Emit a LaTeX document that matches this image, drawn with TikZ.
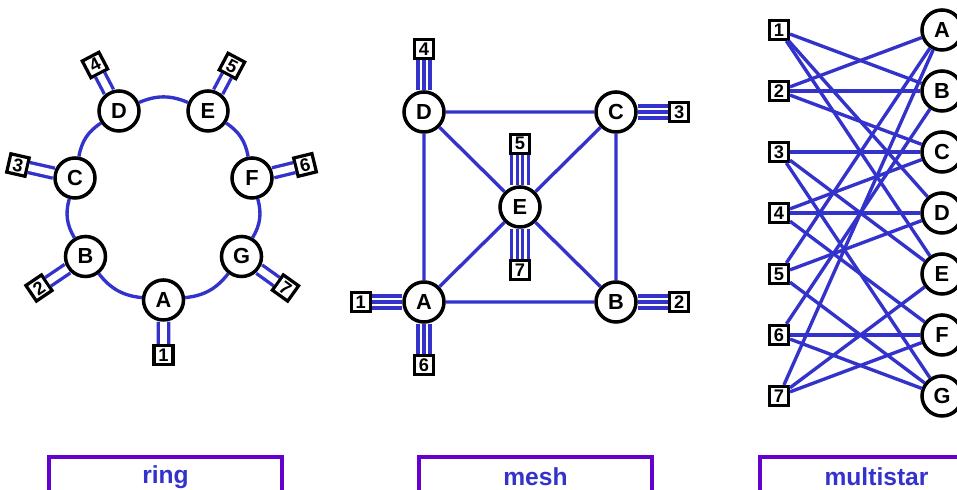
\documentclass[tikz,border=0pt]{standalone}
\usepackage{fontspec}
\setmainfont{Liberation Sans}
\usepackage{xcolor}
\usetikzlibrary{positioning}

\definecolor{linkblue}{RGB}{51,51,204}
\definecolor{framepurple}{RGB}{102,0,204}

\begin{document}
\begin{tikzpicture}[
  x=0.025cm, y=0.025cm, % one unit is one pixel of the sketch
  node distance=0.76cm, % gap between a site and its port
  site/.style={circle, draw, line width=2.5pt, fill=white, minimum size=1.0cm, inner sep=0pt,
    font=\bfseries\fontsize{15.5}{16}\selectfont}, % lettered circles
  port/.style={rectangle, draw, line width=2.3pt, fill=white, minimum size=0.47cm, inner sep=0pt,
    font=\bfseries\fontsize{13}{13}\selectfont}, % numbered squares
  link/.style={draw=linkblue, line width=2.4pt}, % blue connectors
  twin/.style={link, double=white, double distance=0.17cm}, % two parallel lines
  caption/.style={draw=framepurple, line width=2.2pt, text=linkblue, minimum width=5.825cm,
    minimum height=1.0cm, font=\bfseries\fontsize{17.5}{18}\selectfont}, % titles below
]
  \clip (0,0) rectangle (957,490);

  % ring
  \node[site] (rA) at (163.5,190) {A};
  \node[site] (rB) at (85.5,233.5) {B};
  \node[site] (rC) at (75,312) {C};
  \node[site] (rD) at (119,379) {D};
  \node[site] (rE) at (208,379) {E};
  \node[site] (rF) at (252,312) {F};
  \node[site] (rG) at (241.5,233.5) {G};

  \node[port] (r1) at ([shift={(270:55)}]rA) {1};
  \node[port, rotate=34.1] (r2) at ([shift={(214.1:56.2)}]rB) {2};
  \node[port, rotate=-12.8] (r3) at ([shift={(167.2:58.5)}]rC) {3};
  \node[port, rotate=27.6] (r4) at ([shift={(117.6:51.9)}]rD) {4};
  \node[port, rotate=-28] (r5) at ([shift={(62:51)}]rE) {5};
  \node[port, rotate=13.8] (r6) at ([shift={(13.8:54.6)}]rF) {6};
  \node[port, rotate=-35.6] (r7) at ([shift={(-35.6:54.1)}]rG) {7};

  \draw[link] (rA) edge[bend left=23] (rB)
    (rB) edge[bend left=23] (rC)
    (rC) edge[bend left=23] (rD)
    (rD) edge[bend left=23] (rE)
    (rE) edge[bend left=23] (rF)
    (rF) edge[bend left=23] (rG)
    (rG) edge[bend left=23] (rA);

  \draw[twin] (rA) -- (r1) (rB) -- (r2) (rC) -- (r3) (rD) -- (r4)
    (rE) -- (r5) (rF) -- (r6) (rG) -- (r7);

  % mesh
  \node[site] (mA) at (424,188) {A};
  \node[site] (mB) at (616,188) {B};
  \node[site] (mC) at (616,378) {C};
  \node[site] (mD) at (424,378) {D};
  \node[site] (mE) at (520,283) {E};

  \node[port, left=of mA] (m1) {1};
  \node[port, right=of mB] (m2) {2};
  \node[port, right=of mC] (m3) {3};
  \node[port, above=of mD] (m4) {4};
  \node[port, above=of mE] (m5) {5};
  \node[port, below=of mA] (m6) {6};
  \node[port, below=of mE] (m7) {7};

  \draw[link] (mA) -- (mB) -- (mC) -- (mD) -- (mA)
    (mA) -- (mE) (mB) -- (mE) (mC) -- (mE) (mD) -- (mE);

  \foreach \s in {-1,0,1}{
    \draw[link, transform canvas={yshift=\s*0.15cm}] (mA) -- (m1) (mB) -- (m2) (mC) -- (m3);
    \draw[link, transform canvas={xshift=\s*0.15cm}] (mA) -- (m6) (mD) -- (m4);
  }
  \foreach \s in {-1.5,-0.5,0.5,1.5}
    \draw[link, transform canvas={xshift=\s*0.14cm}] (mE) -- (m5) (mE) -- (m7);

  % multistar
  \foreach \i/\t in {1/A,2/B,3/C,4/D,5/E,6/F,7/G}{
    \node[port] (s\i) at (779,521-61*\i) {\i};
    \node[site] (c\t) at (942,521-61*\i) {\t};
  }

  \draw[link] (s1) edge (cB) edge (cD) edge (cE)
    (s2) edge (cA) edge (cB) edge (cC)
    (s3) edge (cC) edge (cE) edge (cG)
    (s4) edge (cC) edge (cD) edge (cF)
    (s5) edge (cA) edge (cD) edge (cG)
    (s6) edge (cB) edge (cF) edge (cG)
    (s7) edge (cA) edge (cE) edge (cF);

  % titles
  \node[caption] (ring) at (165.5,13) {ring};
  \node[caption] (mesh) at (535.5,13) {mesh};
  \node[caption] (multistar) at (876.5,13) {multistar};
\end{tikzpicture}
\end{document}
